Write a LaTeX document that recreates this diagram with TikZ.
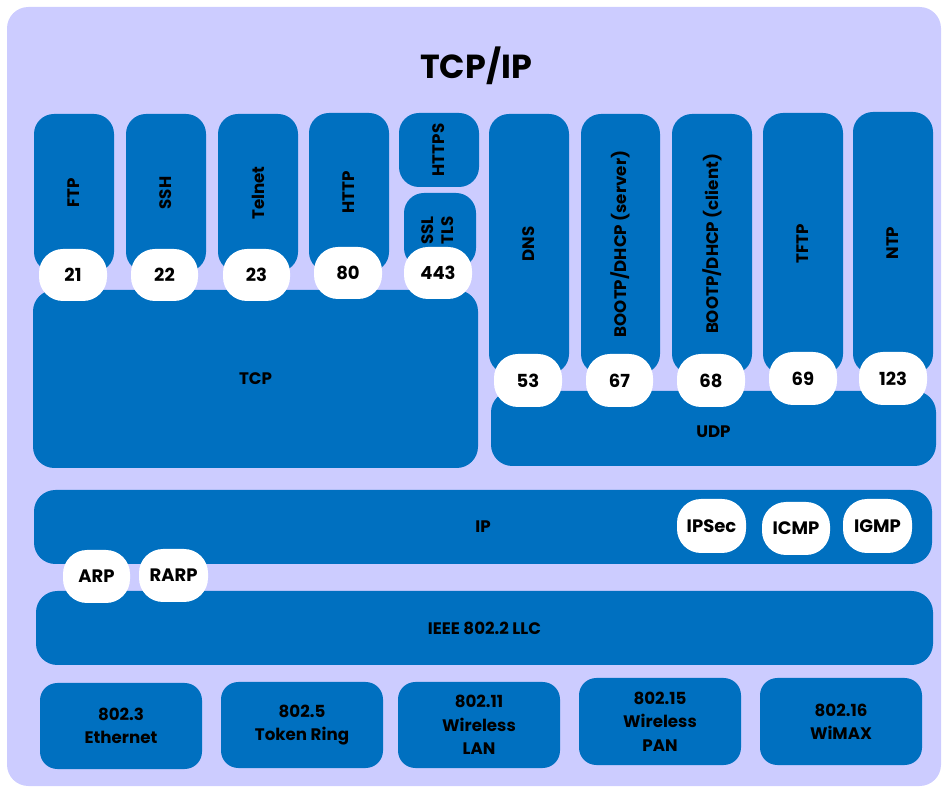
\documentclass[tikz,border=0pt]{standalone}
\usepackage{fontspec}
\setmainfont{Poppins}
\definecolor{lav}{HTML}{CCCCFF}
\definecolor{blu}{HTML}{0070C0}
\newcommand\pb[7][]{\node[#1, minimum width={(#5-#3)*0.75pt}, minimum height={(#6-#4)*0.75pt}] (#2) at ({(#3+#5)/2},{(#4+#6)/2}) {#7};}
\newcommand\rt[1]{\rotatebox{90}{#1}}
\tikzset{
  lbl/.style={font=\bfseries\fontsize{12.5}{13}\selectfont, text=black, align=center, inner sep=0pt},
  box/.style={lbl, fill=blu, rounded corners=15pt},
  bar/.style={lbl, fill=blu, rounded corners=16pt},
  phy/.style={lbl, fill=blu, rounded corners=13pt, font=\bfseries\fontsize{12.5}{17.5}\selectfont},
  port/.style={lbl, fill=white, rounded corners=18pt, font=\bfseries\fontsize{13.5}{14}\selectfont},
}
\begin{document}
\begin{tikzpicture}[x=0.75pt,y=-0.75pt]
\useasboundingbox (0,0) rectangle (943,787);
\fill[lav, rounded corners=16pt] (7,7) rectangle (941,786);
\node[lbl, font=\bfseries\fontsize{25}{27}\selectfont] (title) at (476,66) {TCP/IP};
% application (TCP)
\pb[box]{ftp}{34}{114}{114}{272}{\rt{FTP}}
\pb[box]{ssh}{126}{114}{206}{272}{\rt{SSH}}
\pb[box]{telnet}{218}{114}{298}{272}{\rt{Telnet}}
\pb[box]{http}{309}{113}{389}{272}{\rt{HTTP}}
\pb[box]{https}{399}{113}{479}{187}{\rt{HTTPS}}
\pb[box]{ssl}{404}{193}{476}{268}{\rt{\begin{tabular}{@{}c@{}}SSL\\[2pt]TLS\end{tabular}}}
\pb[bar]{tcp}{33}{290}{478}{468}{TCP}
% application (UDP)
\pb[box]{dns}{489}{114}{569}{374}{\rt{DNS}}
\pb[box]{bootps}{581}{114}{660}{374}{\rt{BOOTP/DHCP (server)}}
\pb[box]{bootpc}{672}{114}{752}{374}{\rt{BOOTP/DHCP (client)}}
\pb[box]{tftp}{763}{113}{843}{374}{\rt{TFTP}}
\pb[box]{ntp}{853}{112}{933}{374}{\rt{NTP}}
\pb[bar]{udp}{491}{391}{936}{466}{\raisebox{-14pt}{UDP}}
% ports
\pb[port]{p21}{39}{249}{107}{301}{21}
\pb[port]{p22}{131}{249}{198}{301}{22}
\pb[port]{p23}{223}{249}{290}{301}{23}
\pb[port]{p80}{314}{247}{382}{299}{80}
\pb[port]{p443}{404}{247}{472}{299}{443}
\pb[port]{p53}{494}{354}{562}{407}{53}
\pb[port]{p67}{586}{354}{653}{407}{67}
\pb[port]{p68}{677}{354}{745}{407}{68}
\pb[port]{p69}{769}{352}{837}{405}{69}
\pb[port]{p123}{859}{352}{927}{405}{123}
% network
\pb[bar]{ip}{34}{490}{932}{564}{IP}
\pb[port]{ipsec}{677}{499}{746}{553}{IPSec}
\pb[port]{icmp}{762}{502}{830}{555}{ICMP}
\pb[port]{igmp}{843}{499}{912}{553}{IGMP}
\pb[bar]{llc}{36}{591}{933}{665}{IEEE 802.2 LLC}
\pb[port]{arp}{63}{550}{130}{603}{ARP}
\pb[port]{rarp}{139}{549}{208}{602}{RARP}
% physical
\pb[phy]{e3}{40}{683}{202}{769}{802.3\\Ethernet}
\pb[phy]{e5}{221}{682}{383}{768}{802.5\\Token Ring}
\pb[phy]{e11}{398}{682}{560}{768}{802.11\\Wireless\\LAN}
\pb[phy]{e15}{579}{678}{741}{765}{802.15\\Wireless\\PAN}
\pb[phy]{e16}{760}{678}{922}{765}{802.16\\WiMAX}
\end{tikzpicture}
\end{document}
